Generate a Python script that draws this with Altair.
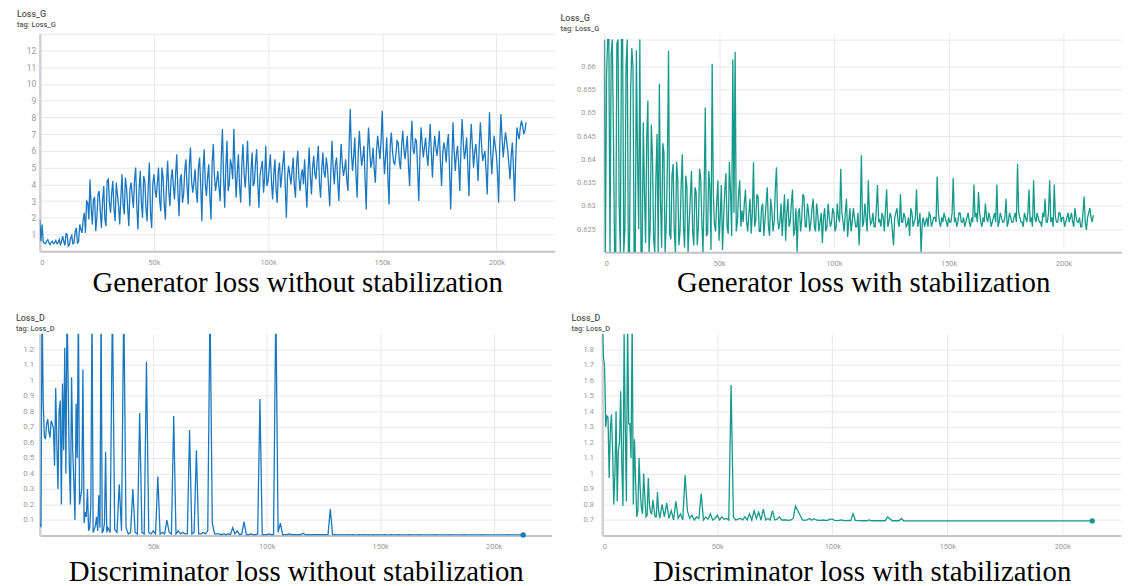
import altair as alt
import pandas as pd

# logged every 1k steps; the *_half lists are the readings in between (k + 0.5k)
STEP = 1000

gen_nostab = [
    1.9, 1.6, 0.5, 0.6, 0.5, 0.55, 0.45, 0.65, 0.5, 0.4,
    0.9, 0.35, 1.0, 0.4, 0.95, 0.5, 1.4, 0.6, 1.3, 1.9,
    1.1, 2.9, 4.3, 1.6, 3.2, 2.0, 3.6, 1.4, 3.9, 1.5,
    4.3, 2.3, 4.2, 1.8, 3.4, 1.6, 4.6, 2.2, 3.8, 1.5,
    4.1, 2.6, 5.0, 1.3, 4.8, 2.0, 4.2, 1.8, 5.3, 1.4,
    4.6, 3.2, 5.0, 2.4, 4.4, 1.9, 5.4, 2.7, 4.9, 3.1,
    5.8, 2.1, 4.6, 3.4, 5.5, 2.8, 6.2, 3.5, 4.9, 2.9,
    5.6, 1.8, 6.1, 3.3, 5.2, 1.9, 6.4, 3.6, 4.8, 3.0,
    7.3, 2.6, 6.6, 4.0, 5.1, 7.3, 3.2, 5.8, 2.9, 6.4,
    3.8, 6.6, 2.7, 5.9, 4.1, 6.1, 2.6, 5.0, 3.5, 6.3,
    4.2, 5.8, 3.1, 5.5, 2.9, 5.3, 4.5, 6.0, 2.0, 5.1,
    4.0, 5.6, 3.2, 6.0, 3.6, 4.9, 5.5, 2.6, 6.2, 3.4,
    5.7, 4.3, 6.3, 3.2, 5.9, 4.4, 5.0, 2.7, 6.6, 4.0,
    5.6, 3.0, 6.4, 4.5, 5.5, 3.6, 8.5, 4.8, 6.8, 3.2,
    7.2, 5.1, 6.3, 2.5, 7.4, 5.0, 6.2, 4.1, 6.9, 5.5,
    8.4, 4.6, 6.8, 2.8, 7.1, 5.3, 5.8, 6.5, 4.9, 7.2,
    5.5, 6.9, 3.9, 7.8, 5.8, 6.6, 3.0, 7.4, 5.6, 6.8,
    5.1, 7.6, 4.4, 6.9, 5.7, 7.2, 3.9, 6.5, 5.3, 7.0,
    2.5, 7.7, 4.8, 6.3, 3.6, 7.9, 5.5, 6.8, 3.3, 7.6,
    5.0, 6.4, 4.2, 7.7, 5.4, 6.0, 3.4, 8.3, 4.6, 6.9,
    5.8, 2.9, 8.2, 5.6, 7.1, 6.0, 4.3, 6.5, 3.0, 7.4,
    6.7, 7.8, 7.0, 7.7,
]
gen_nostab_half = [
    0.6, 0.55, 0.45, 0.7, 0.4, 0.6, 0.5, 0.45, 0.7, 0.55,
    0.6, 1.05, 0.3, 0.8, 0.45, 1.2, 0.45, 1.6, 1.1, 2.3,
    3.0, 1.9, 2.6, 3.1, 1.2, 3.4, 2.4, 3.0, 1.9, 4.2,
    2.9, 3.5, 2.5, 4.1, 2.7, 3.2, 2.8, 4.4, 2.6, 3.7,
    3.3, 4.3, 2.7, 3.7, 2.9, 4.5, 2.6, 3.9, 2.3, 4.0,
    3.7, 4.1, 3.0, 5.0, 2.8, 4.0, 3.6, 4.3, 3.9, 4.6,
    3.6, 4.3, 2.9, 4.8, 3.9, 5.1, 4.2, 4.1, 3.6, 5.0,
    3.9, 4.9, 4.0, 4.4, 3.3, 5.3, 4.5, 4.2, 3.8, 5.6,
    4.4, 5.0, 3.6, 5.5, 4.3, 5.0, 4.7, 3.9, 5.2, 4.6,
    5.0, 4.3, 4.8, 3.9, 5.3, 4.0, 4.6, 5.4, 4.4, 3.9,
    5.0, 4.1, 4.6, 3.7, 4.8, 3.8, 5.3, 4.0, 4.4, 4.6,
    4.8, 3.9, 5.2, 4.4, 4.5, 4.0, 3.9, 4.7, 4.5, 5.0,
    4.6, 5.4, 4.1, 4.9, 4.7, 5.6, 3.9, 4.8, 5.0, 5.2,
    4.2, 5.0, 5.3, 4.9, 4.2, 6.4, 5.9, 5.7, 4.6, 5.9,
    6.0, 5.6, 4.3, 5.8, 6.1, 5.3, 4.9, 6.0, 6.2, 6.6,
    6.0, 5.7, 4.4, 6.3, 6.0, 5.2, 6.6, 5.4, 6.3, 6.1,
    6.2, 5.1, 6.4, 6.1, 6.7, 4.9, 5.6, 6.5, 6.2, 5.8,
    6.3, 5.9, 6.0, 6.2, 6.4, 5.3, 5.8, 6.1, 6.4, 4.8,
    5.3, 6.0, 5.8, 5.2, 6.2, 6.5, 6.0, 5.0, 6.2, 6.3,
    5.9, 5.5, 6.3, 6.4, 5.7, 4.8, 6.1, 6.0, 5.8, 6.3,
    4.7, 6.4, 6.8, 6.4, 6.6, 5.2, 5.7, 4.9, 5.6, 7.0,
    7.4, 7.5, 7.2,
]

gen_stab = [
    0.68, 0.658, 0.67, 0.6625, 0.645, 0.61, 0.672, 0.615, 0.668, 0.625,
    0.68, 0.612, 0.664, 0.6185, 0.6635, 0.625, 0.615, 0.648, 0.622, 0.6527,
    0.625, 0.6405, 0.619, 0.6455, 0.6563, 0.621, 0.6415, 0.626, 0.6634, 0.6228,
    0.639, 0.6195, 0.636, 0.6245, 0.6411, 0.621, 0.634, 0.6265, 0.6375, 0.6215,
    0.633, 0.6255, 0.636, 0.6185, 0.6512, 0.624, 0.634, 0.6606, 0.626, 0.631,
    0.6225, 0.6345, 0.6275, 0.637, 0.624, 0.633, 0.6615, 0.6632, 0.6265, 0.6355,
    0.629, 0.6305, 0.6265, 0.6285, 0.624, 0.6394, 0.627, 0.632, 0.6245, 0.6305,
    0.627, 0.634, 0.6235, 0.629, 0.6265, 0.6383, 0.625, 0.6305, 0.628, 0.6225,
    0.6315, 0.6265, 0.6335, 0.625, 0.6201, 0.6295, 0.627, 0.632, 0.6255, 0.6285,
    0.6265, 0.6315, 0.6245, 0.628, 0.6265, 0.622, 0.6295, 0.6255, 0.6275, 0.6265,
    0.6285, 0.6255, 0.6275, 0.638, 0.6265, 0.6285, 0.6233, 0.6295, 0.6265, 0.6275,
    0.6255, 0.6215, 0.6409, 0.6265, 0.6275, 0.6355, 0.626, 0.6285, 0.6255, 0.6345,
    0.627, 0.6285, 0.6245, 0.6335, 0.6265, 0.6275, 0.6215, 0.6285, 0.6265, 0.6325,
    0.6265, 0.6275, 0.626, 0.6235, 0.6285, 0.6265, 0.6335, 0.6265, 0.619, 0.6275,
    0.6265, 0.6255, 0.628, 0.6265, 0.6275, 0.6363, 0.6265, 0.6275, 0.6285, 0.6265,
    0.6275, 0.6265, 0.636, 0.6275, 0.6265, 0.6285, 0.6265, 0.6255, 0.6275, 0.6265,
    0.6275, 0.6346, 0.6285, 0.633, 0.6265, 0.6275, 0.6305, 0.6265, 0.6275, 0.6265,
    0.6285, 0.6346, 0.6265, 0.6275, 0.6265, 0.6315, 0.6265, 0.6275, 0.6265, 0.6285,
    0.639, 0.6275, 0.6265, 0.6285, 0.6265, 0.6335, 0.6275, 0.6355, 0.6265, 0.6275,
    0.6265, 0.6285, 0.6315, 0.6265, 0.6355, 0.6275, 0.6346, 0.6265, 0.6285, 0.6265,
    0.6275, 0.6265, 0.6285, 0.6275, 0.6265, 0.6295, 0.6265, 0.6275, 0.6255, 0.632,
    0.6248, 0.6285, 0.6275, 0.628,
]
gen_stab_half = [
    0.61, 0.68, 0.615, 0.67, 0.612, 0.665, 0.63, 0.68, 0.61, 0.66,
    0.615, 0.655, 0.66, 0.612, 0.64, 0.67, 0.618, 0.633, 0.6445, 0.619,
    0.6475, 0.623, 0.636, 0.62, 0.631, 0.6435, 0.619, 0.6385, 0.624, 0.6365,
    0.6245, 0.6395, 0.6215, 0.6345, 0.6255, 0.6365, 0.6195, 0.632, 0.6245, 0.634,
    0.6215, 0.638, 0.6265, 0.6325, 0.6235, 0.6375, 0.6205, 0.6325, 0.6245, 0.6355,
    0.6275, 0.6205, 0.6335, 0.6255, 0.6395, 0.6235, 0.6285, 0.6245, 0.6325, 0.6255,
    0.6265, 0.6335, 0.6245, 0.6315, 0.6285, 0.6255, 0.6325, 0.6245, 0.6295, 0.6235,
    0.6305, 0.6255, 0.6315, 0.6245, 0.6335, 0.6275, 0.6265, 0.6235, 0.6325, 0.6285,
    0.6255, 0.6305, 0.6235, 0.6295, 0.6285, 0.6245, 0.6325, 0.6255, 0.6305, 0.6245,
    0.6295, 0.6255, 0.6305, 0.6245, 0.6285, 0.6275, 0.6245, 0.6305, 0.6255, 0.6295,
    0.6245, 0.6305, 0.6265, 0.6285, 0.6245, 0.6315, 0.6265, 0.6245, 0.6295, 0.6255,
    0.6285, 0.6275, 0.6255, 0.6305, 0.6245, 0.6285, 0.6265, 0.6255, 0.6295, 0.6265,
    0.6255, 0.6275, 0.6295, 0.6255, 0.6285, 0.6245, 0.6275, 0.6295, 0.6255, 0.6265,
    0.6285, 0.6255, 0.6275, 0.6295, 0.6255, 0.6275, 0.6255, 0.6285, 0.6265, 0.6255,
    0.6275, 0.6285, 0.6255, 0.6275, 0.6265, 0.6285, 0.6255, 0.6265, 0.6275, 0.6255,
    0.6265, 0.6285, 0.6265, 0.6255, 0.6285, 0.6265, 0.6275, 0.6265, 0.6285, 0.6255,
    0.6265, 0.6275, 0.6265, 0.6285, 0.6255, 0.6265, 0.6275, 0.6285, 0.6255, 0.6275,
    0.6265, 0.6255, 0.6285, 0.6265, 0.6275, 0.6255, 0.6285, 0.6265, 0.6275, 0.6265,
    0.6285, 0.6265, 0.6255, 0.6275, 0.6285, 0.6265, 0.6255, 0.6275, 0.6285, 0.6265,
    0.6255, 0.6275, 0.6265, 0.6285, 0.6265, 0.6255, 0.6275, 0.6265, 0.6285, 0.6275,
    0.6255, 0.6275, 0.6265, 0.6285, 0.6255, 0.6275, 0.6265, 0.6255, 0.6285, 0.6265,
    0.6275, 0.6295, 0.6265,
]

disc_nostab = [
    0.07, 1.5, 0.64, 0.72, 0.67, 0.74, 0.69, 0.95, 0.3, 0.87,
    0.98, 1.21, 1.5, 0.45, 1.02, 0.35, 0.85, 1.5, 0.25, 1.07,
    0.15, 0.3, 0.05, 1.5, 0.04, 0.12, 0.26, 1.5, 0.03, 0.54,
    0.05, 0.02, 1.5, 0.04, 0.02, 0.33, 0.03, 1.5, 0.05, 0.01,
    0.02, 0.30, 0.02, 0.01, 0.79, 0.02, 0.01, 1.12, 0.02, 0.01,
    0.03, 0.01, 0.38, 0.01, 0.02, 0.01, 0.10, 0.02, 0.01, 0.77,
    0.01, 0.03, 0.01, 0.02, 0.01, 0.01, 0.68, 0.01, 0.02, 0.55,
    0.01, 0.01, 0.02, 0.01, 0.03, 1.5, 0.08, 0.01, 0.01, 0.01,
    0.005, 0.01, 0.005, 0.01, 0.005, 0.05, 0.01, 0.03, 0.005, 0.01,
    0.09, 0.005, 0.005, 0.01, 0.005, 0.005, 0.01, 0.88, 0.005, 0.005,
    0.005, 0.01, 0.005, 0.005, 1.5, 0.02, 0.08, 0.005, 0.005, 0.005,
    0.01, 0.005, 0.005, 0.005, 0.005, 0.005, 0.015, 0.005, 0.005, 0.005,
    0.005, 0.005, 0.005, 0.005, 0.005, 0.005, 0.005, 0.005, 0.17, 0.005,
    0.005, 0.004, 0.005, 0.004, 0.005, 0.004, 0.005, 0.004, 0.005, 0.004,
    0.004, 0.005, 0.004, 0.005, 0.004, 0.005, 0.004, 0.005, 0.004, 0.005,
    0.004, 0.004, 0.005, 0.004, 0.004, 0.005, 0.004, 0.004, 0.005, 0.004,
    0.004, 0.004, 0.004, 0.005, 0.004, 0.004, 0.004, 0.005, 0.004, 0.004,
    0.004, 0.004, 0.004, 0.004, 0.005, 0.004, 0.004, 0.004, 0.004, 0.004,
    0.004, 0.005, 0.004, 0.004, 0.004, 0.004, 0.004, 0.005, 0.004, 0.004,
    0.004, 0.004, 0.004, 0.004, 0.004, 0.005, 0.004, 0.004, 0.004, 0.004,
    0.004, 0.004, 0.004, 0.004, 0.004, 0.004, 0.005, 0.004, 0.004, 0.004,
    0.004, 0.004, 0.004, 0.004,
]
disc_nostab_half = [
    0.06, 0.87, 0.62, 0.75, 0.63, 0.72, 0.45, 0.6, 0.8, 0.2,
    0.55, 0.4, 0.96, 0.2, 0.55, 0.1, 0.5, 0.2, 0.3, 0.08,
    0.12, 0.03, 0.2, 0.02, 0.06, 0.03, 0.05, 0.02, 0.08, 0.02,
]

disc_stab = [
    2.0, 1.69, 1.37, 0.97, 1.38, 0.8, 1.4, 1.15, 1.53, 0.79,
    1.3, 2.0, 1.32, 2.0, 1.22, 0.72, 1.1, 0.78, 1.0, 0.72,
    0.97, 0.75, 0.83, 0.72, 0.88, 0.71, 0.8, 0.72, 0.81, 0.71,
    0.76, 0.70, 0.82, 0.71, 0.74, 0.70, 0.99, 0.76, 0.71, 0.73,
    0.70, 0.72, 0.71, 0.87, 0.70, 0.72, 0.705, 0.74, 0.70, 0.71,
    0.73, 0.70, 0.72, 0.705, 0.71, 0.70, 1.57, 0.72, 0.70, 0.705,
    0.71, 0.70, 0.72, 0.70, 0.74, 0.70, 0.76, 0.71, 0.75, 0.70,
    0.77, 0.70, 0.71, 0.70, 0.76, 0.70, 0.705, 0.72, 0.70, 0.70,
    0.70, 0.698, 0.70, 0.71, 0.79, 0.76, 0.73, 0.70, 0.698, 0.70,
    0.71, 0.698, 0.708, 0.70, 0.698, 0.698, 0.70, 0.698, 0.698, 0.705,
    0.705, 0.698, 0.696, 0.698, 0.70, 0.696, 0.696, 0.698, 0.696, 0.74,
    0.698, 0.696, 0.696, 0.695, 0.696, 0.695, 0.70, 0.695, 0.695, 0.695,
    0.695, 0.695, 0.695, 0.695, 0.72, 0.71, 0.695, 0.695, 0.695, 0.695,
    0.71, 0.695, 0.694, 0.694, 0.694, 0.694, 0.694, 0.694, 0.694, 0.694,
    0.694, 0.694, 0.694, 0.694, 0.694, 0.694, 0.694, 0.694, 0.694, 0.694,
    0.694, 0.694, 0.694, 0.694, 0.694, 0.694, 0.694, 0.694, 0.694, 0.694,
    0.694, 0.694, 0.694, 0.694, 0.694, 0.694, 0.694, 0.694, 0.694, 0.694,
    0.694, 0.694, 0.694, 0.694, 0.694, 0.694, 0.694, 0.694, 0.694, 0.694,
    0.694, 0.694, 0.694, 0.694, 0.694, 0.694, 0.694, 0.694, 0.694, 0.694,
    0.694, 0.694, 0.694, 0.694, 0.694, 0.694, 0.694, 0.694, 0.694, 0.694,
    0.694, 0.694, 0.694, 0.694, 0.694, 0.694, 0.694, 0.694, 0.694, 0.694,
    0.694, 0.694, 0.694, 0.694,
]
disc_stab_half = [
    1.75, 1.3, 1.36, 1.28, 1.15, 1.0, 0.82, 1.2, 1.05, 1.9,
    0.82, 1.32, 1.1, 0.8, 0.95, 0.76, 0.9, 0.74, 0.85, 0.73,
    0.8, 0.74, 0.77, 0.72, 0.76,
]

BLUE = "#1a77c0"
TEAL = "#14998a"
X_MAX = 225500
X_TICKS = [0, 50000, 100000, 150000, 200000]


def frame(values, half):
    steps = [i * STEP for i in range(len(values))] + [i * STEP + STEP // 2 for i in range(len(half))]
    vals = list(values) + list(half)
    df = pd.DataFrame({"step": steps, "loss": vals})
    return df.sort_values("step").reset_index(drop=True)


def panel(values, half, color, tag, caption, ydom, yvals, ytop, xvals, w, h,
          title_dx, cap_pad, ylab, ypad, dot, top_gap=0):
    df = frame(values, half)
    label_expr = "datum.value > %f ? '' : datum.label" % ytop
    x = alt.X(
        "step:Q",
        scale=alt.Scale(domain=[0, X_MAX], nice=False, zero=False),
        axis=alt.Axis(
            values=xvals, title=caption, grid=True, ticks=False,
            labelExpr="datum.value == 0 ? '0' : format(datum.value / 1000, 'd') + 'k'",
            labelFontSize=7.5, labelPadding=7, titlePadding=cap_pad,
            labelOverlap=False, domainColor="#c4c4c4", domainWidth=2,
        ),
    )
    if top_gap:
        yscale = alt.Scale(domain=ydom, nice=False, zero=False,
                           range=[h + top_gap, top_gap], clamp=True)
    else:
        yscale = alt.Scale(domain=ydom, nice=False, zero=False)
    y = alt.Y(
        "loss:Q",
        scale=yscale,
        axis=alt.Axis(
            values=yvals, format="~g", labelExpr=label_expr, title=None,
            grid=True, ticks=False, labelFontSize=ylab, labelPadding=ypad,
            labelOverlap=False, domainColor="#d2d2d2", domainWidth=2.5,
        ),
    )
    layers = [alt.Chart(df).mark_line(color=color, strokeWidth=1.3, clip=True).encode(x=x, y=y)]
    if dot:
        layers.append(
            alt.Chart(df.tail(1)).mark_point(filled=True, size=28, color=color, opacity=1)
            .encode(x=x, y=y)
        )
    return alt.layer(*layers).properties(
        width=w, height=h + top_gap,
        title=alt.TitleParams(
            text=tag, subtitle="tag: " + tag, anchor="start", frame="group",
            dx=title_dx, offset=1,
        ),
    )


tl = panel(gen_nostab, gen_nostab_half, BLUE, "Loss_G", "Generator loss without stabilization",
           [0, 13], list(range(1, 14)), 12.5, X_TICKS, 518, 219,
           -23, 3, 8.5, 4, False)
tr = panel(gen_stab, gen_stab_half, TEAL, "Loss_G", "Generator loss with stabilization",
           [0.62, 0.6658], [0.625, 0.63, 0.635, 0.64, 0.645, 0.65, 0.655, 0.66, 0.6658],
           0.663, X_TICKS, 521, 214, -44, 2, 7.5, 9, False, top_gap=6)
bl = panel(disc_nostab, disc_nostab_half, BLUE, "Loss_D", "Discriminator loss without stabilization",
           [0, 1.3], [0.1, 0.2, 0.3, 0.4, 0.5, 0.6, 0.7, 0.8, 0.9, 1.0, 1.1, 1.2],
           5, X_TICKS[1:], 515, 203, -24, 8, 8, 6, True)
br = panel(disc_stab, disc_stab_half, TEAL, "Loss_D", "Discriminator loss with stabilization",
           [0.6, 1.9], [0.7, 0.8, 0.9, 1.0, 1.1, 1.2, 1.3, 1.4, 1.5, 1.6, 1.7, 1.8],
           5, X_TICKS, 522, 203, -31, 8, 7.5, 9, True)

chart = alt.vconcat(
    alt.hconcat(tl, tr, spacing=6),
    alt.hconcat(bl, br, spacing=20),
    spacing=16,
).properties(
    padding={"left": 8, "top": 0, "right": 0, "bottom": 0},
).configure_view(
    stroke=None,
).configure_axis(
    labelFont="Roboto", labelColor="#9a9a9a", gridColor="#e8e8e8", gridWidth=1,
    titleFont="Liberation Serif", titleFontSize=29, titleColor="#000000",
    titleFontWeight="normal",
).configure_title(
    font="Roboto", fontSize=9, fontWeight=500, color="#5a5a5a",
    subtitleFont="Roboto", subtitleFontSize=7.5, subtitleFontWeight=500,
    subtitleColor="#5a5a5a", subtitlePadding=2,
)

chart.save("out.html", embed_options={"renderer": "svg", "actions": False})
